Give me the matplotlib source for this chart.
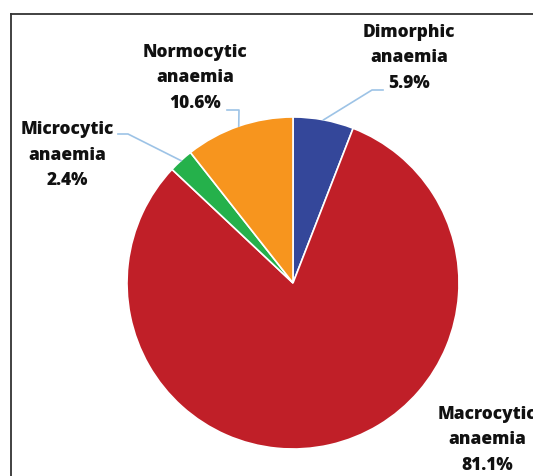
import matplotlib
matplotlib.use("Agg")
import matplotlib.pyplot as plt
import numpy as np

# anaemia types, clockwise from 12 o'clock
labels = ["Dimorphic\nanaemia", "Macrocytic\nanaemia", "Microcytic\nanaemia", "Normocytic\nanaemia"]
values = [5.9, 81.1, 2.4, 10.6]
colors = ["#34479a", "#c01f28", "#25b14b", "#f7951e"]

W, H = 533, 477
cx, cy, R = 293, 193, 166

fig = plt.figure(figsize=(W / 100, H / 100), dpi=100)
ax = fig.add_axes([0, 0, 1, 1])

wedges, _ = ax.pie(values, colors=colors, startangle=90, counterclock=False,
                   center=(cx, cy), radius=R, frame=True,
                   wedgeprops=dict(edgecolor="white", linewidth=1.2))
ax.set_xlim(0, W)
ax.set_ylim(0, H)
ax.set_aspect("equal")
ax.axis("off")

# frame of the original figure (cropped on the right and bottom)
ax.plot([11, 11], [0, H - 15], color="#333333", lw=1.3)
ax.plot([11, W], [H - 15, H - 15], color="#333333", lw=1.3)

# label positions and leader line bends (pixels, y up)
text_pos = [(409, 419), (487, 37), (67, 322), (195, 399)]
bends = [[(372, 386), (383, 386)], None, [(128, 342), (118, 342)], [(239, 366), (227, 366)]]

for w, lab, v, tp, bend in zip(wedges, labels, values, text_pos, bends):
    ang = np.deg2rad((w.theta1 + w.theta2) / 2)
    if bend is not None:
        x0 = cx + R * np.cos(ang)
        y0 = cy + R * np.sin(ang)
        xs = [x0] + [b[0] for b in bend]
        ys = [y0] + [b[1] for b in bend]
        ax.plot(xs, ys, color="#9dc3e6", lw=1.2)
    ax.text(tp[0], tp[1], f"{lab}\n{v}%", ha="center", va="center",
            multialignment="center", fontsize=12.4, fontweight="heavy",
            family="Open Sans", linespacing=1.68, color="#111111")

fig.savefig("out.png", dpi=100)
